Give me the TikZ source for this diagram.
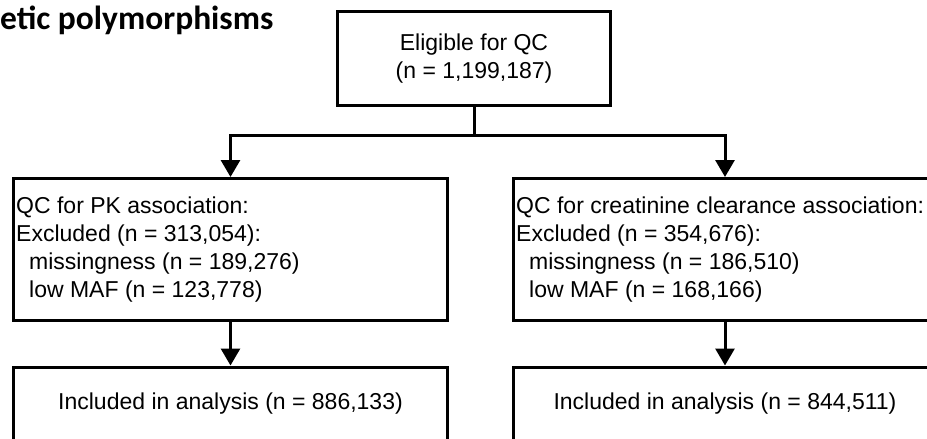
\documentclass[tikz,border=0pt]{standalone}
\usepackage{fontspec}
\setmainfont{Liberation Sans}
\newfontfamily\titlefont{Carlito}
\usetikzlibrary{arrows.meta}
\newcommand{\boxsize}{\fontsize{23}{28.3}\selectfont}

\begin{document}
\begin{tikzpicture}[x=1pt,y=-1pt,font=\boxsize,
  box/.style={draw,line width=3pt,inner sep=0pt,align=center},
  note/.style={anchor=west,inner sep=0pt,align=left},
  flow/.style={-{Triangle[length=17pt,width=19pt]},line width=3pt},
  link/.style={line width=3pt}]
\useasboundingbox(0,0)rectangle(927,439);
\clip(0,0)rectangle(927,439);
\node[anchor=base west,inner sep=0pt,font={\titlefont\bfseries\fontsize{33.5}{40}\selectfont}](ttl) at(0,29){etic polymorphisms};
\node[box,minimum width=273pt,minimum height=94pt](qc) at(474,58.5){Eligible for QC\\(n = 1,199,187)};
\node[box,minimum width=434pt,minimum height=142pt](pk) at(230.5,249.5){};
\node[box,minimum width=423pt,minimum height=142pt](cr) at(725,249.5){};
\node[box,minimum width=434pt,minimum height=74pt](pkin) at(230.5,404){Included in analysis (n = 886,133)};
\node[box,minimum width=423pt,minimum height=74pt](crin) at(725,404){Included in analysis (n = 844,511)};
\node[note](pktxt) at([xshift=4pt]pk.west){QC for PK association:\\Excluded (n = 313,054):\\\hspace*{13pt}missingness (n = 189,276)\\\hspace*{13pt}low MAF (n = 123,778)};
\node[note](crtxt) at([xshift=4pt]cr.west){QC for creatinine clearance association:\\Excluded (n = 354,676):\\\hspace*{13pt}missingness (n = 186,510)\\\hspace*{13pt}low MAF (n = 168,166)};
\coordinate(fork) at(474,135);
\draw[link](qc)--(fork);
\draw[flow](fork)-|(pk);
\draw[flow](fork)-|(cr);
\draw[flow](pk)--(pkin);
\draw[flow](cr)--(crin);
\end{tikzpicture}
\end{document}
